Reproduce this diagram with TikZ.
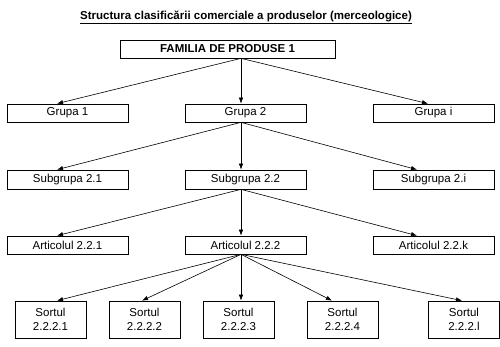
\documentclass[tikz,border=0pt]{standalone}
\usepackage{fontspec}
\setmainfont{Liberation Sans}
\usetikzlibrary{arrows.meta}

\begin{document}
\begin{tikzpicture}[x=1pt,y=-1pt,
 box/.style={draw, line width=0.7pt, minimum width=121pt, minimum height=18pt, inner sep=0pt, align=center},
 sortbox/.style={draw, line width=0.7pt, minimum width=71pt, minimum height=37pt, inner sep=0pt, align=center},
 arr/.style={-{Latex[length=6pt,width=4.5pt]}, line width=0.6pt},
 font=\fontsize{11.5}{13.5}\selectfont
]
\useasboundingbox (0,0) rectangle (500,347);
\node (title) at (246,17) {\bfseries\underline{Structura clasificării comerciale a produselor (merceologice)}};
\node[box, minimum width=215pt, font=\fontsize{11.5}{13.5}\selectfont\bfseries] (fam) at (227.5,49) {FAMILIA DE PRODUSE 1};

\node[box] (g1) at (67.5,113) {Grupa 1};
\node[box] (g2) at (245.5,113) {Grupa 2};
\node[box] (gi) at (433.5,113) {Grupa i};

\node[box, minimum height=19pt] (sg1) at (67.5,179.5) {Subgrupa 2.1};
\node[box, minimum height=19pt] (sg2) at (245.5,179.5) {Subgrupa 2.2};
\node[box, minimum height=19pt] (sgi) at (433.5,179.5) {Subgrupa 2.i};

\node[box] (a1) at (67.5,245) {Articolul 2.2.1};
\node[box] (a2) at (245.5,245) {Articolul 2.2.2};
\node[box] (ak) at (433.5,245) {Articolul 2.2.k};

\node[sortbox] (s1) at (50.5,319.5) {Sortul\\2.2.2.1};
\node[sortbox] (s2) at (144.5,319.5) {Sortul\\2.2.2.2};
\node[sortbox] (s3) at (238.5,319.5) {Sortul\\2.2.2.3};
\node[sortbox] (s4) at (342.5,319.5) {Sortul\\2.2.2.4};
\node[sortbox] (s5) at (464,319.5) {Sortul\\2.2.2.l};

\draw[arr] ([xshift=13.5pt]fam.south) -- ([xshift=-10.5pt]g1.north);
\draw[arr] ([xshift=13.5pt]fam.south) -- ([xshift=-4.5pt]g2.north);
\draw[arr] ([xshift=13.5pt]fam.south) -- ([xshift=-5.5pt]gi.north);

\draw[arr] ([xshift=-4.5pt]g2.south) -- ([xshift=-10.5pt]sg1.north);
\draw[arr] ([xshift=-4.5pt]g2.south) -- ([xshift=-4.5pt]sg2.north);
\draw[arr] ([xshift=-4.5pt]g2.south) -- ([xshift=-16.5pt]sgi.north);

\draw[arr] ([xshift=-4.5pt]sg2.south) -- ([xshift=-10.5pt]a1.north);
\draw[arr] ([xshift=-4.5pt]sg2.south) -- ([xshift=-4.5pt]a2.north);
\draw[arr] ([xshift=-4.5pt]sg2.south) -- ([xshift=-16.5pt]ak.north);

\draw[arr] ([xshift=-4.5pt]a2.south) -- ([xshift=6.5pt]s1.north);
\draw[arr] ([xshift=-4.5pt]a2.south) -- ([xshift=-2.5pt]s2.north);
\draw[arr] ([xshift=-4.5pt]a2.south) -- ([xshift=2.5pt]s3.north);
\draw[arr] ([xshift=-4.5pt]a2.south) -- ([xshift=-10.5pt]s4.north);
\draw[arr] ([xshift=-4.5pt]a2.south) -- ([xshift=-2pt]s5.north);
\end{tikzpicture}
\end{document}
